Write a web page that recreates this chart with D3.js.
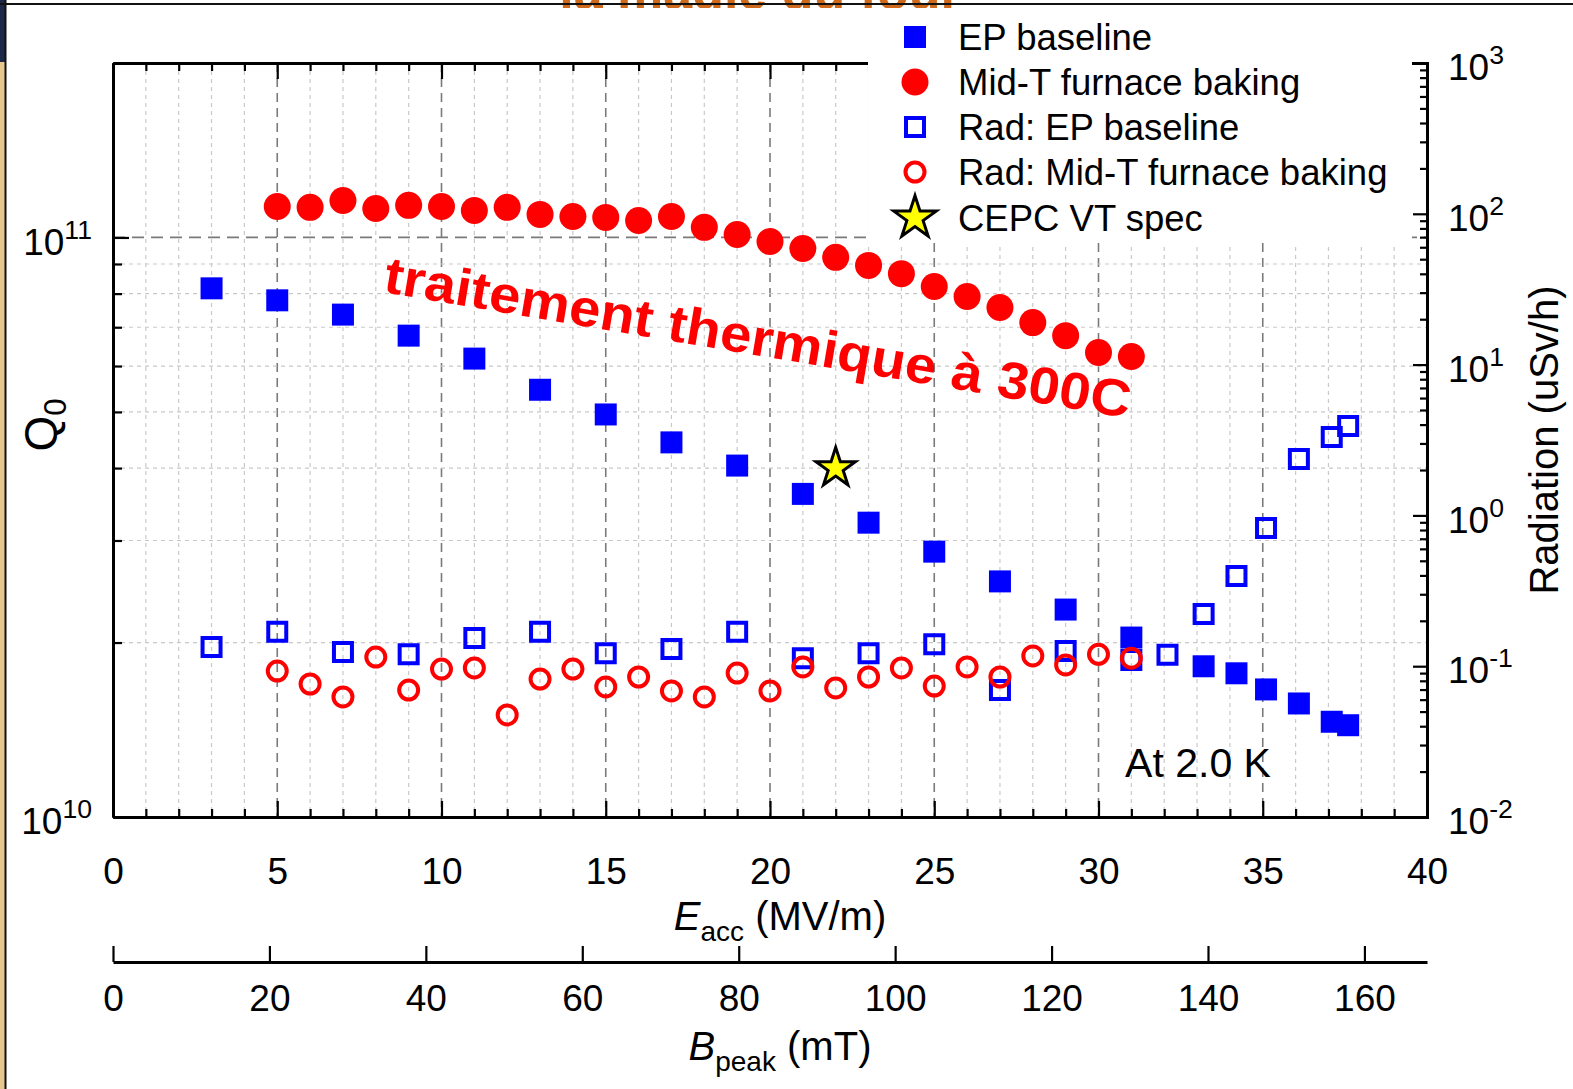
<!DOCTYPE html>
<html>
<head>
<meta charset="utf-8">
<script src="https://cdn.jsdelivr.net/npm/d3@7"></script>
<style>
  body { margin: 0; background: #fff; }
  svg { display: block; }
</style>
</head>
<body>
<div id="container"></div>
<script>
/* global d3 */

// ---- data ----
// EP baseline, Q0 vs Eacc
const epE = [3, 5, 7, 9, 11, 13, 15, 17, 19, 21, 23, 25, 27, 29, 31, 33.2, 34.2, 35.1, 36.1, 37.1, 37.6];
const epQ = [8.17e10, 7.79e10, 7.36e10, 6.77e10, 6.18e10, 5.46e10, 4.95e10, 4.43e10, 4.04e10, 3.61e10,
  3.22e10, 2.87e10, 2.55e10, 2.28e10, 2.04e10, 1.82e10, 1.77e10, 1.66e10, 1.57e10, 1.46e10, 1.44e10];

// Mid-T furnace baking, Q0 vs Eacc
const midE = [5, 6, 7, 8, 9, 10, 11, 12, 13, 14, 15, 16, 17, 18, 19, 20, 21, 22, 23, 24, 25, 26, 27, 28, 29, 30, 31];
const midQ = [1.131e11, 1.127e11, 1.158e11, 1.122e11, 1.136e11, 1.131e11, 1.113e11, 1.127e11, 1.096e11,
  1.087e11, 1.083e11, 1.070e11, 1.087e11, 1.041e11, 1.012e11, 9.84e10, 9.57e10, 9.24e10, 8.95e10,
  8.66e10, 8.23e10, 7.91e10, 7.57e10, 7.13e10, 6.77e10, 6.33e10, 6.23e10];

// radiation (uSv/h)
const radEpE = [3, 5, 7, 9, 11, 13, 15, 17, 19, 21, 23, 25, 27, 29, 31, 32.1, 33.2, 34.2, 35.1, 36.1, 37.1, 37.6];
const radEp = [0.134, 0.169, 0.124, 0.120, 0.154, 0.169, 0.122, 0.130, 0.169, 0.113, 0.122, 0.140,
  0.0695, 0.126, 0.110, 0.119, 0.222, 0.396, 0.825, 2.37, 3.31, 3.92];
const radMid = [0.0929, 0.0762, 0.0625, 0.115, 0.0695, 0.0958, 0.0973, 0.0475, 0.0822, 0.0958, 0.0728,
  0.0848, 0.0685, 0.0625, 0.0901, 0.0685, 0.0988, 0.0717, 0.0848, 0.0973, 0.0739, 0.0988, 0.0848,
  0.117, 0.102, 0.120, 0.113];

// CEPC vertical test spec
const specE = [22];
const specQ = [4.0e10];

// ticks
const eTicks = [0, 5, 10, 15, 20, 25, 30, 35, 40];
const bTicks = [0, 20, 40, 60, 80, 100, 120, 140, 160];
const qTicks = [1e10, 1e11];
const rTicks = [1e-2, 1e-1, 1e0, 1e1, 1e2, 1e3];

const legendLabels = ["EP baseline", "Mid-T furnace baking", "Rad: EP baseline", "Rad: Mid-T furnace baking", "CEPC VT spec"];

const width = 1573;
const height = 1089;
const plotL = 113, plotR = 1427, plotT = 63, plotB = 817;
const FONT = "'Liberation Sans', Arial, Helvetica, sans-serif";
const BLUE = "#0000ff";
const RED = "#ff0000";

// scales
const x = d3.scaleLinear([0, 40], [plotL, plotR]);
const xB = d3.scaleLinear([0, 168], [plotL, plotR]);
const yQ = d3.scaleLog([1e10, 2e11], [plotB, plotT]);
const yR = d3.scaleLog([1e-2, 1e3], [plotB, plotT]);

const svg = d3.select("#container")
  .append("svg")
  .attr("width", width)
  .attr("height", height)
  .style("font-family", FONT);

// slide leftovers round the picture (slide title is cut by the frame, as in the source)
svg.append("rect").attr("width", width).attr("height", height).attr("fill", "#fff");
svg.append("text")
  .attr("x", 760).attr("y", 9)
  .attr("text-anchor", "middle")
  .attr("font-size", 52).attr("font-weight", "bold")
  .attr("fill", "#cf6a1d")
  .text("la magie du four");
svg.append("rect").attr("x", 6).attr("y", 8).attr("width", width).attr("height", height).attr("fill", "#fff");
svg.append("rect").attr("x", 0).attr("y", 0).attr("width", 5).attr("height", height).attr("fill", "#e6c78e");
svg.append("rect").attr("x", 0).attr("y", 0).attr("width", 5).attr("height", 62).attr("fill", "#1d2848");
svg.append("line").attr("x1", 0).attr("x2", width).attr("y1", 4).attr("y2", 4)
  .attr("stroke", "#111").attr("stroke-width", 2);
svg.append("line").attr("x1", 5.5).attr("x2", 5.5).attr("y1", 0).attr("y2", height)
  .attr("stroke", "#111").attr("stroke-width", 2);

// grid
const grid = svg.append("g");
grid.selectAll(".vgrid")
  .data(d3.range(1, 40))
  .join("line")
  .attr("x1", (d) => x(d)).attr("x2", (d) => x(d))
  .attr("y1", plotT).attr("y2", plotB)
  .attr("stroke", (d) => (d % 5 === 0 ? "#7a7a7a" : "#c9c9c9"))
  .attr("stroke-width", (d) => (d % 5 === 0 ? 1.6 : 1.2))
  .attr("stroke-dasharray", (d) => (d % 5 === 0 ? "9,6" : "4,4"));

const qGrid = [2e10, 3e10, 4e10, 5e10, 6e10, 7e10, 8e10, 9e10, 1e11];
grid.selectAll(".hgrid")
  .data(qGrid)
  .join("line")
  .attr("x1", plotL).attr("x2", plotR)
  .attr("y1", (d) => yQ(d)).attr("y2", (d) => yQ(d))
  .attr("stroke", (d) => (d === 1e11 ? "#7a7a7a" : "#c9c9c9"))
  .attr("stroke-width", (d) => (d === 1e11 ? 1.8 : 1.2))
  .attr("stroke-dasharray", (d) => (d === 1e11 ? "12,7" : "4,4"));

// power-of-ten labels
function powerLabels(g) {
  g.selectAll(".tick text").each(function (d) {
    const t = d3.select(this);
    const e = Math.round(Math.log10(d));
    t.text(null).attr("dy", "0.45em");
    t.append("tspan").text("10");
    t.append("tspan").attr("dy", "-0.6em").attr("font-size", "0.72em").text(e);
  });
}

function styleAxis(g) {
  g.attr("font-family", FONT).attr("font-size", 37);
  g.selectAll(".tick line").attr("stroke", "#000").attr("stroke-width", 2.2);
  g.selectAll(".domain").attr("stroke", "#000").attr("stroke-width", 3);
  g.selectAll("text").attr("fill", "#000");
}

const eMinor = d3.range(0, 41).filter((d) => d % 5 !== 0);

// bottom axis (Eacc)
svg.append("g")
  .attr("transform", `translate(0,${plotB})`)
  .call(d3.axisBottom(x).tickValues(eMinor).tickSize(-8).tickSizeOuter(0).tickFormat(""))
  .call(styleAxis);
svg.append("g")
  .attr("transform", `translate(0,${plotB})`)
  .call(d3.axisBottom(x).tickValues(eTicks).tickSize(-16).tickSizeOuter(0).tickPadding(41))
  .call(styleAxis);

// top axis
svg.append("g")
  .attr("transform", `translate(0,${plotT})`)
  .call(d3.axisTop(x).tickValues(eMinor).tickSize(-8).tickSizeOuter(0).tickFormat(""))
  .call(styleAxis);
svg.append("g")
  .attr("transform", `translate(0,${plotT})`)
  .call(d3.axisTop(x).tickValues(eTicks).tickSize(-16).tickSizeOuter(0).tickFormat(""))
  .call(styleAxis);

// left axis (Q0)
const qMinor = [2, 3, 4, 5, 6, 7, 8, 9].map((m) => m * 1e10).concat([2e11]);
svg.append("g")
  .attr("transform", `translate(${plotL},0)`)
  .call(d3.axisLeft(yQ).tickValues(qMinor).tickSize(-9).tickSizeOuter(0).tickFormat(""))
  .call(styleAxis);
svg.append("g")
  .attr("transform", `translate(${plotL},0)`)
  .call(d3.axisLeft(yQ).tickValues(qTicks).tickSize(-16).tickSizeOuter(0).tickPadding(21))
  .call(styleAxis)
  .call(powerLabels);

// markers
const symFillSq = d3.symbol(d3.symbolSquare, 22 * 22);
const symOpenSq = d3.symbol(d3.symbolSquare, 18 * 18);
const symStar = d3.symbol(d3.symbolStar, 480);

const marks = svg.append("g");
marks.selectAll(".ep")
  .data(epE)
  .join("path")
  .attr("d", symFillSq)
  .attr("transform", (d, i) => `translate(${x(d)},${yQ(epQ[i])})`)
  .attr("fill", BLUE);

marks.selectAll(".mid")
  .data(midE)
  .join("circle")
  .attr("cx", (d) => x(d))
  .attr("cy", (d, i) => yQ(midQ[i]))
  .attr("r", 13.5)
  .attr("fill", RED);

marks.selectAll(".radep")
  .data(radEpE)
  .join("path")
  .attr("d", symOpenSq)
  .attr("transform", (d, i) => `translate(${x(d)},${yR(radEp[i])})`)
  .attr("fill", "none")
  .attr("stroke", BLUE)
  .attr("stroke-width", 4);

marks.selectAll(".radmid")
  .data(midE)
  .join("circle")
  .attr("cx", (d) => x(d))
  .attr("cy", (d, i) => yR(radMid[i]))
  .attr("r", 9.5)
  .attr("fill", "none")
  .attr("stroke", RED)
  .attr("stroke-width", 4);

marks.selectAll(".spec")
  .data(specE)
  .join("path")
  .attr("d", symStar)
  .attr("transform", (d, i) => `translate(${x(d)},${yQ(specQ[i])})`)
  .attr("fill", "#ffff00")
  .attr("stroke", "#000")
  .attr("stroke-width", 3)
  .attr("stroke-linejoin", "miter");

// legend
const legend = svg.append("g");
legend.append("rect")
  .attr("x", 868).attr("y", 10).attr("width", 544).attr("height", 233)
  .attr("fill", "#fff");
const rowY = [37, 82, 127, 172, 218];
const lx = 915;
legend.append("path").attr("d", symFillSq).attr("transform", `translate(${lx},${rowY[0]})`).attr("fill", BLUE);
legend.append("circle").attr("cx", lx).attr("cy", rowY[1]).attr("r", 13.5).attr("fill", RED);
legend.append("path").attr("d", symOpenSq).attr("transform", `translate(${lx},${rowY[2]})`)
  .attr("fill", "none").attr("stroke", BLUE).attr("stroke-width", 4);
legend.append("circle").attr("cx", lx).attr("cy", rowY[3]).attr("r", 9.5)
  .attr("fill", "none").attr("stroke", RED).attr("stroke-width", 4);
legend.append("path").attr("d", d3.symbol(d3.symbolStar, 560)).attr("transform", `translate(${lx},${rowY[4]})`)
  .attr("fill", "#ffff00").attr("stroke", "#000").attr("stroke-width", 3);
legend.selectAll(".lt")
  .data(legendLabels)
  .join("text")
  .attr("x", 958)
  .attr("y", (d, i) => rowY[i] + 13)
  .attr("font-size", 36.5)
  .attr("fill", "#000")
  .text((d) => d);

// right axis (radiation)
const rMinor = [];
for (let e = -2; e < 3; e++) {
  for (let m = 2; m <= 9; m++) rMinor.push(m * Math.pow(10, e));
}
svg.append("g")
  .attr("transform", `translate(${plotR},0)`)
  .call(d3.axisRight(yR).tickValues(rMinor).tickSize(-7).tickSizeOuter(0).tickFormat(""))
  .call(styleAxis);
svg.append("g")
  .attr("transform", `translate(${plotR},0)`)
  .call(d3.axisRight(yR).tickValues(rTicks).tickSize(-14).tickSizeOuter(-14).tickPadding(21))
  .call(styleAxis)
  .call(powerLabels);

// second x axis (Bpeak)
const bY = 962;
svg.append("g")
  .attr("transform", `translate(0,${bY})`)
  .call(d3.axisBottom(xB).tickValues(bTicks).tickSize(-16).tickSizeOuter(0).tickPadding(23))
  .call(styleAxis);

// axis titles
const eTitle = svg.append("text")
  .attr("x", 780).attr("y", 930)
  .attr("text-anchor", "middle")
  .attr("font-size", 40);
eTitle.append("tspan").attr("font-style", "italic").text("E");
eTitle.append("tspan").attr("font-size", "0.7em").attr("dy", "0.4em").text("acc");
eTitle.append("tspan").attr("dy", "-0.28em").text(" (MV/m)");

const bTitle = svg.append("text")
  .attr("x", 780).attr("y", 1060)
  .attr("text-anchor", "middle")
  .attr("font-size", 40);
bTitle.append("tspan").attr("font-style", "italic").text("B");
bTitle.append("tspan").attr("font-size", "0.7em").attr("dy", "0.4em").text("peak");
bTitle.append("tspan").attr("dy", "-0.28em").text(" (mT)");

const qTitle = svg.append("text")
  .attr("transform", "translate(57,425) rotate(-90)")
  .attr("text-anchor", "middle")
  .attr("font-size", 46);
qTitle.append("tspan").text("Q");
qTitle.append("tspan").attr("font-size", "0.68em").attr("dy", "0.3em").text("0");

svg.append("text")
  .attr("transform", "translate(1558,440) rotate(-90)")
  .attr("text-anchor", "middle")
  .attr("font-size", 40)
  .text("Radiation (uSv/h)");

// annotations
svg.append("text")
  .attr("x", 1198).attr("y", 777)
  .attr("text-anchor", "middle")
  .attr("font-size", 41)
  .text("At 2.0 K");

svg.append("text")
  .attr("transform", "translate(755,355) rotate(9.6)")
  .attr("text-anchor", "middle")
  .attr("font-size", 52)
  .attr("font-weight", "bold")
  .attr("fill", RED)
  .attr("textLength", 756)
  .attr("lengthAdjust", "spacingAndGlyphs")
  .text("traitement thermique à 300C");
</script>
</body>
</html>
